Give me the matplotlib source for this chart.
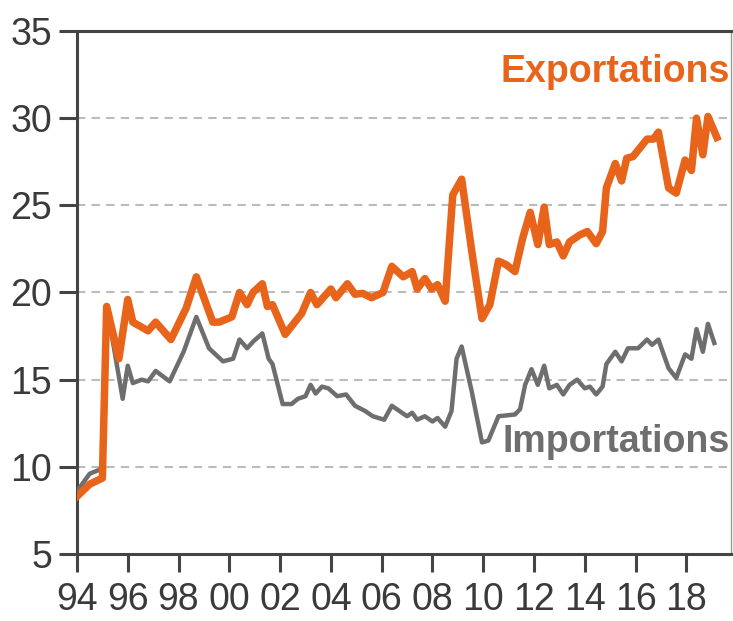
import numpy as np
import matplotlib.pyplot as plt

# (year, value)
exp_years = [1994.0, 1994.5, 1995.0, 1995.17, 1995.65, 1996.0, 1996.2, 1996.8, 1997.1, 1997.7,
             1998.3, 1998.7, 1999.35, 1999.6, 2000.1, 2000.4, 2000.7, 2000.93, 2001.3, 2001.5,
             2001.7, 2002.2, 2002.85, 2003.2, 2003.45, 2004.0, 2004.2, 2004.65, 2004.95, 2005.25,
             2005.6, 2006.05, 2006.4, 2006.85, 2007.2, 2007.4, 2007.7, 2007.97, 2008.2, 2008.5,
             2008.8, 2009.15, 2009.55, 2009.95, 2010.26, 2010.6, 2010.9, 2011.25, 2011.55, 2011.85,
             2012.15, 2012.4, 2012.6, 2012.9, 2013.15, 2013.4, 2013.8, 2014.1, 2014.45, 2014.7,
             2014.85, 2015.2, 2015.45, 2015.65, 2015.9, 2016.45, 2016.7, 2016.9, 2017.3, 2017.6,
             2017.95, 2018.2, 2018.4, 2018.65, 2018.85, 2019.2]
exportations = [8.3, 9.0, 9.35, 19.2, 16.2, 19.6, 18.3, 17.8, 18.3, 17.3,
                19.1, 20.9, 18.3, 18.3, 18.6, 20.0, 19.3, 20.0, 20.5, 19.2,
                19.3, 17.6, 18.8, 20.0, 19.3, 20.2, 19.7, 20.5, 19.9, 19.95,
                19.7, 20.0, 21.5, 20.9, 21.2, 20.2, 20.8, 20.2, 20.45, 19.5,
                25.6, 26.5, 22.35, 18.5, 19.3, 21.8, 21.6, 21.2, 23.1, 24.6,
                22.75, 24.9, 22.75, 22.9, 22.1, 22.9, 23.3, 23.5, 22.8, 23.5,
                26.0, 27.4, 26.4, 27.7, 27.8, 28.8, 28.8, 29.2, 26.0, 25.7,
                27.6, 27.0, 30.0, 27.9, 30.1, 28.9]

imp_years = [1994.0, 1994.5, 1995.0, 1995.2, 1995.8, 1996.0, 1996.2, 1996.55, 1996.8, 1997.1,
             1997.65, 1998.2, 1998.7, 1999.2, 1999.75, 2000.15, 2000.4, 2000.7, 2000.95, 2001.3,
             2001.55, 2001.7, 2002.1, 2002.45, 2002.7, 2003.0, 2003.2, 2003.4, 2003.65, 2003.9,
             2004.25, 2004.6, 2004.95, 2005.35, 2005.65, 2006.1, 2006.4, 2006.7, 2007.0, 2007.2,
             2007.4, 2007.7, 2008.0, 2008.2, 2008.5, 2008.75, 2008.95, 2009.15, 2009.55, 2009.95,
             2010.2, 2010.6, 2011.25, 2011.45, 2011.65, 2011.9, 2012.15, 2012.4, 2012.6, 2012.9,
             2013.15, 2013.4, 2013.7, 2014.0, 2014.2, 2014.45, 2014.7, 2014.85, 2015.2, 2015.45,
             2015.7, 2016.1, 2016.45, 2016.65, 2016.9, 2017.3, 2017.6, 2017.95, 2018.2, 2018.4,
             2018.65, 2018.85, 2019.1]
importations = [8.6, 9.6, 9.9, 19.0, 13.9, 15.8, 14.8, 15.0, 14.9, 15.5,
                14.9, 16.6, 18.6, 16.8, 16.05, 16.2, 17.3, 16.8, 17.2, 17.65,
                16.2, 15.9, 13.6, 13.6, 13.9, 14.05, 14.7, 14.2, 14.6, 14.5,
                14.05, 14.15, 13.5, 13.2, 12.9, 12.7, 13.5, 13.2, 12.9, 13.1,
                12.7, 12.9, 12.6, 12.8, 12.3, 13.2, 16.2, 16.9, 14.3, 11.4,
                11.5, 12.9, 13.0, 13.3, 14.7, 15.6, 14.7, 15.8, 14.5, 14.7,
                14.15, 14.7, 15.0, 14.5, 14.6, 14.15, 14.6, 15.9, 16.6, 16.05,
                16.8, 16.8, 17.3, 17.0, 17.3, 15.65, 15.1, 16.45, 16.2, 17.9,
                16.6, 18.2, 17.1]

xticks = [1994, 1996, 1998, 2000, 2002, 2004, 2006, 2008, 2010, 2012, 2014, 2016, 2018]
xlabels = ['94', '96', '98', '00', '02', '04', '06', '08', '10', '12', '14', '16', '18']
yticks = [5, 10, 15, 20, 25, 30, 35]

orange = '#E8641A'
gray = '#6E6E6E'
dark = '#444444'

plt.rcParams['font.family'] = ['Liberation Sans', 'DejaVu Sans']

fig = plt.figure(figsize=(7.33, 6.21), dpi=100)
ax = fig.add_axes([0.105, 0.108, 0.892, 0.842])

ax.plot(imp_years, importations, color=gray, lw=3.2, solid_joinstyle='round', zorder=3)
ax.plot(exp_years, exportations, color=orange, lw=5.4, solid_joinstyle='round', zorder=4)

ax.set_xlim(1994, 2019.75)
ax.set_ylim(5, 35)
ax.set_xticks(xticks)
ax.set_xticklabels(xlabels)
ax.set_yticks(yticks)

for y in [10, 15, 20, 25, 30]:
    ax.axhline(y, color='#BBBBBB', lw=1.5, ls=(0, (4, 3)), zorder=1)

for s in ['left', 'bottom', 'top']:
    ax.spines[s].set_color(dark)
    ax.spines[s].set_linewidth(2.2)
ax.spines['right'].set_color('#999999')
ax.spines['right'].set_linewidth(1.0)

ax.tick_params(axis='both', direction='out', length=13, width=2.2, color=dark,
               labelsize=27, labelcolor='#3a3a3a')
ax.tick_params(axis='x', pad=7)
ax.tick_params(axis='y', pad=5)

ax.text(2019.7, 32.65, 'Exportations', color=orange, fontsize=27, fontweight='bold',
        ha='right', va='center')
ax.text(2019.7, 11.45, 'Importations', color=gray, fontsize=27, fontweight='bold',
        ha='right', va='center')

plt.savefig('out.png', dpi=100)
plt.close()
